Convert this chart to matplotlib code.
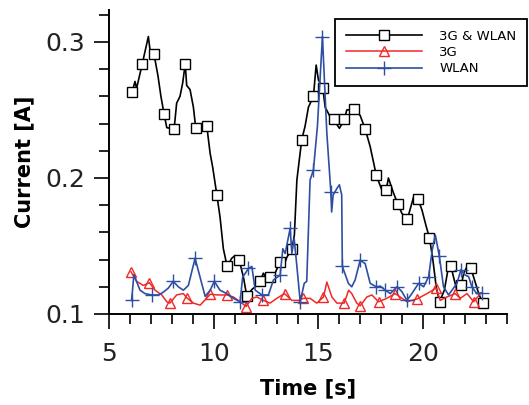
import matplotlib
matplotlib.use('Agg')
import matplotlib.pyplot as plt
from matplotlib.ticker import MultipleLocator

# 3G & WLAN (black, squares)
both_t = [6.11, 6.24, 6.32, 6.59, 6.88, 6.96, 7.15, 7.34, 7.48, 7.63, 7.76, 8.11, 8.23, 8.39, 8.52,
          8.64, 8.71, 8.87, 9.03, 9.14, 9.35, 9.67, 9.83, 9.95, 10.15, 10.30, 10.46, 10.64, 10.86, 11.02,
          11.21, 11.42, 11.58, 11.82, 12.06, 12.21, 12.37, 12.53, 12.69, 12.93, 13.17, 13.33, 13.50, 13.73,
          13.85, 13.97, 14.20, 14.36, 14.52, 14.76, 14.89, 15.00, 15.21, 15.32, 15.56, 15.72, 16.00, 16.24,
          16.35, 16.72, 16.99, 17.23, 17.47, 17.76, 18.03, 18.23, 18.34, 18.58, 18.79, 18.98, 19.25, 19.54,
          19.75, 19.94, 20.15, 20.30, 20.46, 20.62, 20.78, 21.01, 21.21, 21.32, 21.45, 21.61, 21.82, 21.93,
          22.17, 22.28, 22.41, 22.65, 22.84]
both_i = [0.263, 0.271, 0.266, 0.284, 0.304, 0.294, 0.291, 0.275, 0.260, 0.247, 0.237, 0.236, 0.255, 0.260, 0.270,
          0.284, 0.268, 0.265, 0.252, 0.237, 0.234, 0.238, 0.218, 0.208, 0.1875, 0.1715, 0.148, 0.135, 0.141, 0.143,
          0.140, 0.127, 0.113, 0.118, 0.121, 0.124, 0.130, 0.126, 0.127, 0.130, 0.1385, 0.135, 0.142, 0.1475,
          0.158, 0.1985, 0.228, 0.238, 0.252, 0.260, 0.283, 0.272, 0.266, 0.252, 0.245, 0.243, 0.2365, 0.243,
          0.250, 0.2505, 0.246, 0.236, 0.223, 0.202, 0.191, 0.191, 0.200, 0.189, 0.181, 0.174, 0.170, 0.186,
          0.1845, 0.1765, 0.164, 0.156, 0.140, 0.120, 0.109, 0.1175, 0.135, 0.1355, 0.127, 0.1175, 0.121, 0.130,
          0.137, 0.1335, 0.127, 0.115, 0.108]
both_marks = [0, 3, 6, 9, 11, 15, 19, 21, 24, 27, 30, 32, 35, 38, 40, 43, 46, 49, 52, 55, 57, 59, 61, 63,
              65, 68, 70, 72, 75, 78, 81, 84, 87, 90]

# 3G (red, triangles)
g3_t = [6.05, 6.32, 6.64, 6.93, 7.20, 7.52, 7.76, 7.91, 8.23, 8.55, 8.74, 9.03, 9.35, 9.66, 9.83, 10.22,
        10.62, 10.94, 11.26, 11.55, 11.82, 12.06, 12.37, 12.69, 13.01, 13.38, 13.73, 14.04, 14.28, 14.60,
        14.92, 15.24, 15.40, 15.64, 15.88, 16.23, 16.44, 16.59, 16.83, 16.99, 17.31, 17.55, 17.87, 18.26,
        18.66, 18.90, 19.22, 19.70, 20.18, 20.62, 20.81, 21.13, 21.53, 21.77, 22.09, 22.41, 22.73]
g3_i = [0.131, 0.124, 0.121, 0.123, 0.1175, 0.114, 0.109, 0.108, 0.114, 0.115, 0.1115, 0.108, 0.1065, 0.1115,
        0.1145, 0.114, 0.114, 0.1125, 0.109, 0.1055, 0.1115, 0.1125, 0.110, 0.108, 0.1115, 0.115, 0.110, 0.110,
        0.1115, 0.1115, 0.108, 0.1125, 0.1235, 0.1125, 0.108, 0.108, 0.1175, 0.115, 0.108, 0.106, 0.1125, 0.114,
        0.109, 0.1115, 0.115, 0.1125, 0.109, 0.111, 0.115, 0.119, 0.110, 0.1125, 0.115, 0.1115, 0.115, 0.109,
        0.115]
g3_marks = [0, 3, 7, 10, 14, 16, 19, 22, 25, 28, 31, 35, 39, 42, 44, 47, 49, 52, 55]

# WLAN (blue, plus)
wlan_t = [6.08, 6.19, 6.48, 6.72, 7.04, 7.36, 7.59, 7.83, 8.07, 8.31, 8.55, 8.79, 9.11, 9.35, 9.59, 9.83,
          10.03, 10.30, 10.62, 10.94, 11.26, 11.38, 11.66, 11.82, 11.98, 12.30, 12.61, 12.85, 13.17, 13.30,
          13.41, 13.65, 13.73, 13.84, 13.97, 14.13, 14.32, 14.44, 14.60, 14.76, 14.95, 15.19, 15.40, 15.59,
          15.63, 15.70, 15.89, 16.00, 16.11, 16.14, 16.43, 16.59, 16.75, 16.99, 17.23, 17.47, 17.76, 17.95,
          18.19, 18.43, 18.75, 18.98, 19.22, 19.46, 19.78, 20.02, 20.26, 20.43, 20.58, 20.77, 20.97, 21.21,
          21.61, 21.80, 22.01, 22.17, 22.32, 22.56, 22.80]
wlan_i = [0.110, 0.129, 0.1175, 0.115, 0.114, 0.114, 0.116, 0.119, 0.124, 0.120, 0.1175, 0.121, 0.141, 0.127,
          0.113, 0.1175, 0.124, 0.1175, 0.115, 0.1115, 0.109, 0.127, 0.1335, 0.135, 0.1175, 0.114, 0.114, 0.125,
          0.1285, 0.148, 0.1445, 0.163, 0.1445, 0.1555, 0.135, 0.109, 0.1225, 0.124, 0.1985, 0.206, 0.238, 0.304,
          0.233, 0.190, 0.175, 0.1875, 0.1925, 0.195, 0.1875, 0.135, 0.1225, 0.120, 0.125, 0.1395, 0.137, 0.1225,
          0.120, 0.1205, 0.1175, 0.115, 0.120, 0.1165, 0.110, 0.115, 0.1225, 0.120, 0.1275, 0.147, 0.158, 0.1425,
          0.120, 0.114, 0.1225, 0.1325, 0.1285, 0.1275, 0.120, 0.115, 0.1155]
wlan_marks = [0, 4, 8, 12, 16, 20, 22, 25, 28, 31, 35, 39, 41, 43, 49, 53, 56, 58, 60, 62, 64, 66, 69, 73,
              76, 78]

labels = ['3G & WLAN', '3G', 'WLAN']

fig = plt.figure(figsize=(5.29, 4.05), dpi=100)
ax = fig.add_axes([0.206, 0.2247, 0.7524, 0.7506])

ax.plot(both_t, both_i, color='black', lw=1.2, marker='s', ms=7.5, mfc='white', mec='black', mew=1.0,
        markevery=both_marks, label=labels[0])
ax.plot(g3_t, g3_i, color='#f02828', lw=1.1, marker='^', ms=7.5, mfc='none', mec='#f02828', mew=1.0,
        markevery=g3_marks, label=labels[1])
ax.plot(wlan_t, wlan_i, color='#2d4ea3', lw=1.2, marker='+', ms=10, mec='#2d4ea3', mew=1.0,
        markevery=wlan_marks, label=labels[2])

ax.set_xlim(5, 24)
ax.set_ylim(0.1, 0.3235)
ax.xaxis.set_major_locator(MultipleLocator(5))
ax.xaxis.set_minor_locator(MultipleLocator(1))
ax.yaxis.set_major_locator(MultipleLocator(0.1))
ax.yaxis.set_minor_locator(MultipleLocator(0.02))

for s in ['top', 'right']:
    ax.spines[s].set_visible(False)
for s in ['left', 'bottom']:
    ax.spines[s].set_linewidth(1.4)

ax.tick_params(axis='both', which='major', direction='out', length=11, width=1.2, labelsize=18)
ax.tick_params(axis='both', which='minor', direction='out', length=7.2, width=1.2)
ax.tick_params(axis='x', which='major', pad=9)
ax.tick_params(axis='y', which='major', pad=6)
for lab in ax.get_xticklabels() + ax.get_yticklabels():
    lab.set_color('#222222')

ax.set_xlabel('Time [s]', fontsize=15, fontweight='bold', labelpad=9)
ax.set_ylabel('Current [A]', fontsize=15, fontweight='bold', labelpad=8)

leg = ax.legend(loc='upper left', bbox_to_anchor=(335 / 529, 1 - 19 / 405), bbox_transform=fig.transFigure,
                borderaxespad=0, fontsize=9.5, handlelength=5.8, handletextpad=1.3, labelspacing=0.25,
                borderpad=0.8, fancybox=False, edgecolor='black', framealpha=1)
leg.get_frame().set_linewidth(1.3)

fig.savefig('out.png', dpi=100)
